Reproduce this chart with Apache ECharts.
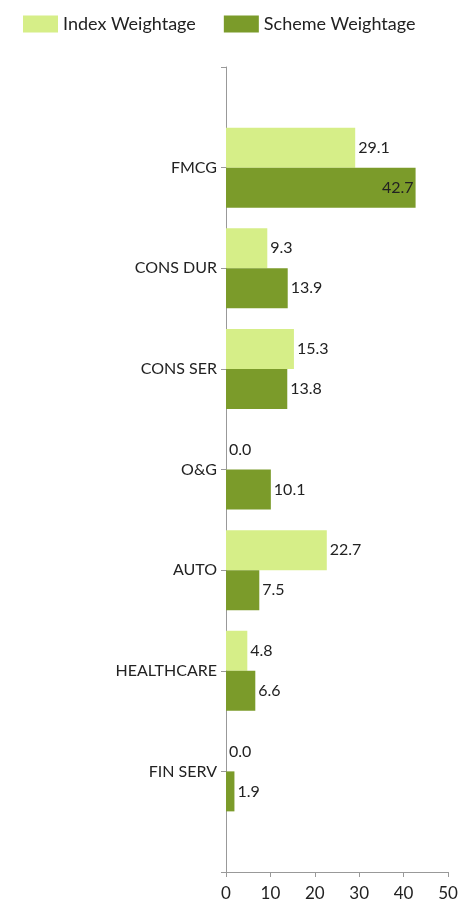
<!DOCTYPE html>
<html>
<head>
<meta charset="utf-8">
<script src="https://cdn.jsdelivr.net/npm/echarts@6/dist/echarts.min.js"></script>
<style>
  html, body { margin: 0; padding: 0; background: #fff; }
  #chart { width: 469px; height: 904px; }
</style>
</head>
<body>
<div id="chart"></div>
<script>
  // blank first/last entries give the empty space above and below the bars
  var categories = ['', 'FMCG', 'CONS DUR', 'CONS SER', 'O&G', 'AUTO', 'HEALTHCARE', 'FIN SERV', ''];
  var indexWeightage = [null, 29.1, 9.3, 15.3, 0.0, 22.7, 4.8, 0.0, null];
  var schemeWeightage = [null, 42.7, 13.9, 13.8, 10.1, 7.5, 6.6, 1.9, null];
  var xTicks = [0, 10, 20, 30, 40, 50];

  var chart = echarts.init(document.getElementById('chart'));
  var font = 'Lato, "Open Sans", sans-serif';

  var option = {
    animation: false,
    textStyle: { fontFamily: font },
    legend: {
      left: 18,
      top: 10,
      itemWidth: 35,
      itemHeight: 17,
      itemGap: 28,
      icon: 'rect',
      textStyle: { fontSize: 18, color: '#222', fontFamily: font },
      data: ['Index Weightage', 'Scheme Weightage']
    },
    grid: {
      left: 226,
      right: 21,
      top: 67,
      bottom: 32,
      containLabel: false
    },
    xAxis: {
      type: 'value',
      min: xTicks[0],
      max: xTicks[xTicks.length - 1],
      interval: 10,
      axisLine: { show: true, lineStyle: { color: '#999', width: 1 } },
      axisTick: { show: true, length: 5, lineStyle: { color: '#999' } },
      axisLabel: { fontSize: 17, color: '#222', margin: 13, fontFamily: font },
      splitLine: { show: false }
    },
    yAxis: {
      type: 'category',
      inverse: true,
      boundaryGap: false,
      data: categories,
      axisLine: { show: true, lineStyle: { color: '#999', width: 1 } },
      axisTick: { show: true, length: 5, alignWithLabel: true, lineStyle: { color: '#999' } },
      axisLabel: { fontSize: 16, color: '#222', margin: 9, fontFamily: font }
    },
    series: [
      {
        name: 'Index Weightage',
        type: 'bar',
        barWidth: 40,
        barGap: '0%',
        itemStyle: { color: '#d6ee88' },
        label: {
          show: true,
          position: 'right',
          distance: 3,
          fontSize: 16,
          color: '#222',
          fontFamily: font,
          formatter: function (p) { return p.value.toFixed(1); }
        },
        data: indexWeightage
      },
      {
        name: 'Scheme Weightage',
        type: 'bar',
        barWidth: 40,
        barGap: '0%',
        itemStyle: { color: '#7b9b2a' },
        label: {
          show: true,
          position: 'right',
          distance: 3,
          fontSize: 16,
          color: '#222',
          fontFamily: font,
          formatter: function (p) { return p.value.toFixed(1); }
        },
        data: schemeWeightage.map(function (v) {
          // the widest bar keeps its label inside
          if (v !== null && v > 40) {
            return { value: v, label: { position: 'insideRight', distance: 2 } };
          }
          return v;
        })
      }
    ]
  };

  chart.setOption(option);

  window.addEventListener('resize', function () {
    chart.resize();
  });
</script>
</body>
</html>
